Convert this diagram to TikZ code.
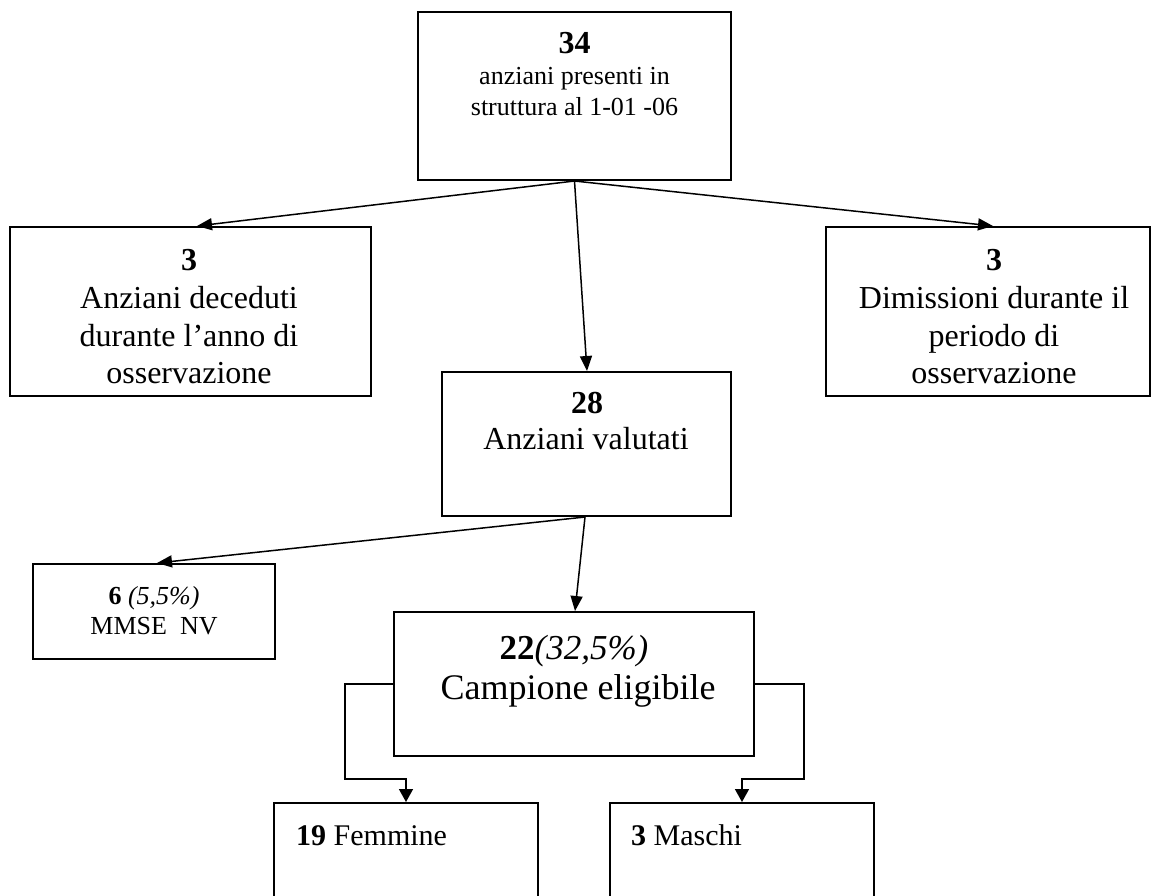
\documentclass[tikz,border=0pt]{standalone}
\usepackage{fontspec}
\setmainfont{Liberation Serif}
\usetikzlibrary{arrows.meta,calc}
\newcommand{\setfs}[1]{\fontsize{#1pt}{#1pt}\selectfont}
\begin{document}
\begin{tikzpicture}[x=1pt,y=-1pt,
  box/.style={draw,line width=2pt,rectangle,inner sep=0pt},
  txt/.style={anchor=base,inner sep=0pt},
  txl/.style={anchor=base west,inner sep=0pt},
  arr/.style={draw,line width=1.5pt,-{Triangle[length=15pt,width=12pt]}},
  elb/.style={draw,line width=1.5pt,-{Triangle[length=13pt,width=14pt]}}]
\useasboundingbox (0,0) rectangle (1153,895);
% boxes
\node[box,minimum width=313pt,minimum height=168pt] (top) at (574.5,96) {};
\node[box,minimum width=361pt,minimum height=169pt] (left) at (190.5,311.5) {};
\node[box,minimum width=324pt,minimum height=169pt] (right) at (988,311.5) {};
\node[box,minimum width=289pt,minimum height=144pt] (mid) at (586.5,444) {};
\node[box,minimum width=242pt,minimum height=95pt] (mmse) at (154,611.5) {};
\node[box,minimum width=360pt,minimum height=144pt] (camp) at (574,684) {};
\node[box,minimum width=264pt,minimum height=97pt] (fem) at (406,851.5) {};
\node[box,minimum width=264pt,minimum height=97pt] (masc) at (742,851.5) {};
% texts
\node[txt,font=\setfs{32}\bfseries] (t1) at (574.5,53) {34};
\node[txt,font=\setfs{26}] (t2) at (574.5,84) {anziani presenti in};
\node[txt,font=\setfs{26}] (t3) at (574.5,115) {struttura al 1-01 -06};
\node[txt,font=\setfs{32}\bfseries] (l1) at (189,270) {3};
\node[txt,font=\setfs{32}] (l2) at (189,308) {Anziani deceduti};
\node[txt,font=\setfs{32}] (l3) at (189,346) {durante l’anno di};
\node[txt,font=\setfs{32}] (l4) at (189,383) {osservazione};
\node[txt,font=\setfs{32}\bfseries] (r1) at (994,270) {3};
\node[txt,font=\setfs{32}] (r2) at (994,308) {Dimissioni durante il};
\node[txt,font=\setfs{32}] (r3) at (994,346) {periodo di};
\node[txt,font=\setfs{32}] (r4) at (994,383) {osservazione};
\node[txt,font=\setfs{32}\bfseries] (m1) at (587,413) {28};
\node[txt,font=\setfs{32}] (m2) at (586,449) {Anziani valutati};
\node[txt,font=\setfs{26}] (n1) at (154,604) {\textbf{6} \textit{(5,5\%)}};
\node[txt,font=\setfs{26}] (n2) at (154,634) {MMSE\ \ NV};
\node[txt,font=\setfs{35}] (c1) at (574,659) {\textbf{22}\textit{(32,5\%)}};
\node[txt,font=\setfs{36}] (c2) at (578,699) {Campione eligibile};
\node[txl,font=\setfs{30}] (f1) at (296,845) {\textbf{19} Femmine};
\node[txl,font=\setfs{30}] (s1) at (631,845) {\textbf{3} Maschi};
% connectors
\draw[arr] (top.south) -- ([xshift=6.5pt]left.north);
\draw[arr] (top.south) -- ([xshift=0.5pt]mid.north);
\draw[arr] (top.south) -- ([xshift=5pt]right.north);
\draw[arr] ([xshift=-1.5pt]mid.south) -- ([xshift=3pt]mmse.north);
\draw[arr] ([xshift=-1.5pt]mid.south) -- ([xshift=1pt]camp.north);
\draw[elb] (camp.west) -- ++(-48,0) |- ($(fem.north)+(0,-23)$) -- (fem.north);
\draw[elb] (camp.east) -- ++(49,0) |- ($(masc.north)+(0,-23)$) -- (masc.north);
\end{tikzpicture}
\end{document}
